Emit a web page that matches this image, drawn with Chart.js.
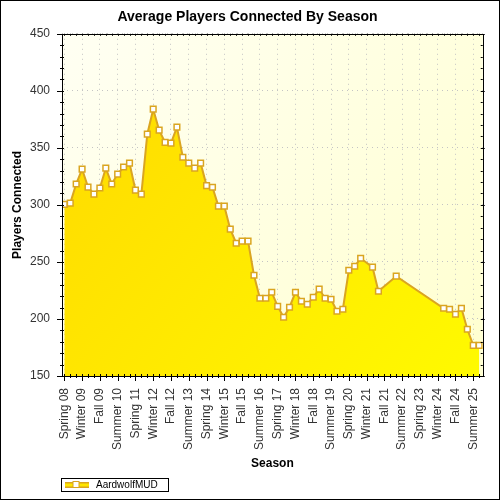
<!DOCTYPE html>
<html>
<head>
<meta charset="utf-8">
<script src="https://cdn.jsdelivr.net/npm/chart.js@4.4.1/dist/chart.umd.min.js"></script>
<style>
  html, body { margin: 0; padding: 0; background: #fff; }
  canvas { display: block; }
</style>
</head>
<body>
<canvas id="seasonChart" width="500" height="500"></canvas>
<script>
// --- data ---
const seasons = [
  'Spring 08','Summer 08','Fall 08','Winter 09',
  'Spring 09','Summer 09','Fall 09','Winter 10',
  'Spring 10','Summer 10','Fall 10','Winter 11',
  'Spring 11','Summer 11','Fall 11','Winter 12',
  'Spring 12','Summer 12','Fall 12','Winter 13',
  'Spring 13','Summer 13','Fall 13','Winter 14',
  'Spring 14','Summer 14','Fall 14','Winter 15',
  'Spring 15','Summer 15','Fall 15','Winter 16',
  'Spring 16','Summer 16','Fall 16','Winter 17',
  'Spring 17','Summer 17','Fall 17','Winter 18',
  'Spring 18','Summer 18','Fall 18','Winter 19',
  'Spring 19','Summer 19','Fall 19','Winter 20',
  'Spring 20','Summer 20','Fall 20','Winter 21',
  'Spring 21','Summer 21','Fall 21','Winter 22',
  'Spring 22','Summer 22','Fall 22','Winter 23',
  'Spring 23','Summer 23','Fall 23','Winter 24',
  'Spring 24','Summer 24','Fall 24','Winter 25',
  'Spring 25','Summer 25','Fall 25'
];

// null = no data for that season (line just runs across)
const players = [
  300.5, 301.6, 318.3, 331.3, 315.6, 309.5, 314.8, 332.2, 318.3, 327.0,
  333.2, 336.6, 313.0, 309.5, 362.0, 383.9, 365.5, 354.8, 354.1, 368.2,
  341.8, 336.6, 332.2, 336.6, 316.9, 315.5, 298.9, 298.9, 278.7, 266.4,
  268.2, 268.2, 238.3, 218.2, 218.2, 223.4, 211.1, 201.5, 210.3, 223.4,
  215.5, 212.9, 219.0, 226.1, 218.2, 217.3, 206.8, 208.5, 242.7, 246.2,
  253.2, null, 245.4, 224.3, null, null, 237.5, null, null, null,
  null, null, null, null, 209.4, 208.5, 204.1, 209.4, 191.0, 176.9,
  176.9
];

const yTicks = [150, 200, 250, 300, 350, 400, 450];
const seriesName = 'AardwolfMUD';

const FONT = 'Liberation Sans, Arial, sans-serif';
const GOLD = '#DAA520';

// white page, plot background gradient
const backdrop = {
  id: 'backdrop',
  beforeDraw(chart) {
    const { ctx, chartArea: a } = chart;
    ctx.save();
    ctx.fillStyle = '#fff';
    ctx.fillRect(0, 0, chart.width, chart.height);
    const g = ctx.createLinearGradient(a.left, a.top, a.right, a.bottom);
    g.addColorStop(0, '#FFFFF3');
    g.addColorStop(1, '#FFFFCF');
    ctx.fillStyle = g;
    ctx.fillRect(a.left, a.top, a.right - a.left, a.bottom - a.top);
    ctx.restore();
  }
};

// frame round the plot with major/minor tick marks on every side
const frameTicks = {
  id: 'frameTicks',
  afterDatasetsDraw(chart) {
    const { ctx, chartArea: a, scales: { x, y } } = chart;
    ctx.save();
    ctx.strokeStyle = '#000';
    ctx.lineWidth = 1;
    ctx.beginPath();
    for (let v = yTicks[0]; v <= yTicks[yTicks.length - 1]; v += 10) {
      const py = Math.round(y.getPixelForValue(v)) + 0.5;
      const major = v % 50 === 0;
      ctx.moveTo(a.left - (major ? 5 : 2), py);
      ctx.lineTo(a.left + 2, py);
      ctx.moveTo(a.right - 2, py);
      ctx.lineTo(a.right + (major ? 2 : 0), py);
    }
    for (let i = 0; i < seasons.length; i++) {
      const px = Math.round(x.getPixelForValue(i)) + 0.5;
      const major = i % 3 === 0;
      ctx.moveTo(px, a.bottom - 2);
      ctx.lineTo(px, a.bottom + (major ? 5 : 2));
      ctx.moveTo(px, a.top);
      ctx.lineTo(px, a.top + 2);
    }
    ctx.stroke();
    ctx.strokeRect(Math.round(a.left) + 0.5, Math.round(a.top) + 0.5,
      Math.round(a.right - a.left), Math.round(a.bottom - a.top));
    ctx.restore();
  }
};

// boxed legend bottom-left + outer border
const boxLegend = {
  id: 'boxLegend',
  afterDraw(chart) {
    const { ctx, chartArea: a } = chart;
    const ds = chart.data.datasets[0];
    const x0 = Math.round(a.left) - 1, y0 = 478;
    ctx.save();
    ctx.fillStyle = '#fff';
    ctx.fillRect(x0, y0, 107, 13);
    ctx.strokeStyle = '#000';
    ctx.lineWidth = 1;
    ctx.strokeRect(x0 + 0.5, y0 + 0.5, 107, 13);
    // sample: yellow band with gold edges and a square marker
    ctx.fillStyle = '#FFE600';
    ctx.fillRect(x0 + 4, y0 + 4, 24, 6);
    ctx.fillStyle = GOLD;
    ctx.fillRect(x0 + 4, y0 + 4, 24, 1.5);
    ctx.fillRect(x0 + 4, y0 + 8.5, 24, 1.5);
    ctx.fillStyle = '#fff';
    ctx.fillRect(x0 + 12, y0 + 3.5, 6, 6);
    ctx.strokeStyle = GOLD;
    ctx.strokeRect(x0 + 12, y0 + 3.5, 6, 6);
    ctx.fillStyle = '#000';
    ctx.font = '10px ' + FONT;
    ctx.textBaseline = 'middle';
    ctx.fillText(ds.label, x0 + 35, y0 + 7.5);
    // outer border of the image
    ctx.strokeStyle = '#000';
    ctx.strokeRect(0.5, 0.5, chart.width - 1, chart.height - 1);
    ctx.restore();
  }
};

new Chart(document.getElementById('seasonChart'), {
  type: 'line',
  data: {
    datasets: [{
      label: seriesName,
      data: players.map((v, i) => ({ x: i, y: v })).filter(p => p.y !== null),
      borderColor: GOLD,
      borderWidth: 2,
      tension: 0,
      fill: 'start',
      backgroundColor: (c) => {
        const a = c.chart.chartArea;
        if (!a) return '#FFE800';
        const g = c.chart.ctx.createLinearGradient(a.left, a.top, a.right, a.bottom);
        g.addColorStop(0, '#FFD800');
        g.addColorStop(1, '#FFFA00');
        return g;
      },
      pointStyle: 'rect',
      pointRadius: 4,
      pointBackgroundColor: '#fff',
      pointBorderColor: GOLD,
      pointBorderWidth: 1.5
    }]
  },
  options: {
    responsive: false,
    animation: false,
    layout: { padding: { left: 10, right: 15, top: 0, bottom: 27 } },
    plugins: {
      legend: { display: false },
      tooltip: { enabled: false },
      title: {
        display: true,
        text: 'Average Players Connected By Season',
        color: '#000',
        font: { family: FONT, size: 14, weight: 'bold' },
        padding: { top: 9, bottom: 8 }
      }
    },
    scales: {
      x: {
        type: 'linear',
        min: -0.39,
        max: 70.6,
        afterBuildTicks: (s) => {
          s.ticks = seasons.map((_, i) => ({ value: i })).filter(t => t.value % 3 === 0);
        },
        afterFit: (s) => { s.height = 97; },
        ticks: {
          autoSkip: false,
          minRotation: 90,
          maxRotation: 90,
          padding: 12,
          color: '#333',
          font: { family: FONT, size: 12 },
          callback: (v) => seasons[v]
        },
        grid: { drawTicks: false, color: '#c4c4c4' },
        border: { display: false, dash: [1, 4] },
        title: {
          display: true,
          text: 'Season',
          color: '#000',
          font: { family: FONT, size: 12, weight: 'bold' },
          padding: { top: 6, bottom: 2 }
        }
      },
      y: {
        min: yTicks[0],
        max: yTicks[yTicks.length - 1],
        afterBuildTicks: (s) => { s.ticks = yTicks.map(v => ({ value: v })); },
        afterFit: (s) => { s.width = 52; },
        ticks: {
          padding: 12,
          color: '#333',
          font: { family: FONT, size: 12 }
        },
        grid: { drawTicks: false, color: '#c4c4c4' },
        border: { display: false, dash: [1, 4] },
        title: {
          display: true,
          text: 'Players Connected',
          color: '#000',
          font: { family: FONT, size: 12, weight: 'bold' },
          padding: { top: 0, bottom: 5 }
        }
      }
    }
  },
  plugins: [backdrop, frameTicks, boxLegend]
});
</script>
</body>
</html>
